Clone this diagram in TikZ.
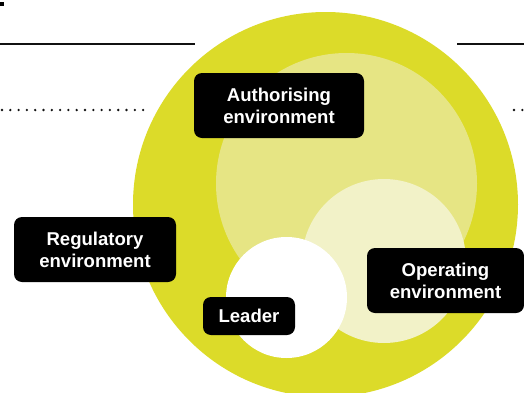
\documentclass[tikz,border=0pt]{standalone}
\usepackage{fontspec}
\setmainfont{Liberation Sans}
\definecolor{cdcdb29}{RGB}{220,219,41}
\definecolor{ce6e584}{RGB}{230,229,132}
\definecolor{cf2f2c8}{RGB}{242,242,200}
\definecolor{c111111}{RGB}{17,17,17}
\def \globalscale {1.000000}

\begin{document}
\begin{tikzpicture}[y=1cm, x=1cm, yscale=\globalscale,xscale=\globalscale, every node/.append style={scale=\globalscale}, inner sep=0pt, outer sep=0pt,
  envbox/.style={fill=black,rounded corners=0.2cm,text=white,align=center,font=\fontsize{13.2}{15.7}\selectfont\bfseries}]
  \useasboundingbox (0, 0) rectangle (13.1, 9.8);
  \clip (0, 0) rectangle (13.1, 9.8);

  \path[fill=cdcdb29] (8.1375, 4.6875) circle (4.8125cm);



  \path[fill=ce6e584] (8.6625, 5.2125) circle (3.2625cm);



  \path[fill=cf2f2c8] (9.6, 3.275) circle (2.05cm);



  \path[fill=white] (7.1625, 2.3625) circle (1.5125cm);



  \path[fill=black] (0.0, 9.64) rectangle (0.1, 9.76);



  \path[draw=c111111,line width=0.03cm] (0.0, 8.7) -- (4.875, 8.7);



  \path[draw=c111111,line width=0.03cm] (11.425, 8.7) -- (13.1, 8.7);



  \path[draw=c111111,line width=0.065cm,line cap=round,dash pattern=on 0cm off 0.2075cm] (0.05, 7.05) -- (3.6, 7.05);



  \path[draw=c111111,line width=0.065cm,line cap=round,dash pattern=on 0cm off 0.2075cm] (12.85, 7.05) -- (13.1, 7.05);



  \node[envbox,minimum width=4.25cm,minimum height=1.625cm] (text2101) at (6.975, 7.1625){Authorising\\environment};



  \node[envbox,minimum width=4.05cm,minimum height=1.625cm] (text2102) at (2.375, 3.5625){Regulatory\\environment};



  \node[envbox,minimum width=3.925cm,minimum height=1.625cm] (text2103) at (11.1375, 2.7875){Operating\\environment};



  \node[envbox,minimum width=2.3cm,minimum height=0.95cm] (text2104) at (6.225, 1.9){Leader};




\end{tikzpicture}
\end{document}
